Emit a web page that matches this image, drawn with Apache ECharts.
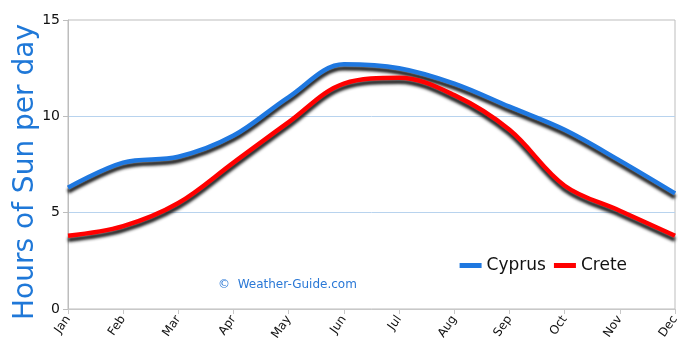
<!DOCTYPE html>
<html>
<head>
<meta charset="utf-8">
<script src="https://cdn.jsdelivr.net/npm/echarts@6/dist/echarts.min.js"></script>
<style>
  html, body { margin: 0; padding: 0; background: #fff; }
  #chart { width: 690px; height: 352px; }
</style>
</head>
<body>
<div id="chart"></div>
<script>
const months = ["Jan", "Feb", "Mar", "Apr", "May", "Jun", "Jul", "Aug", "Sep", "Oct", "Nov", "Dec"];
const cyprus = [6.3, 7.6, 7.9, 9.0, 11.0, 12.7, 12.5, 11.7, 10.5, 9.3, 7.7, 6.0];
const crete = [3.8, 4.3, 5.5, 7.6, 9.7, 11.7, 12.0, 11.1, 9.3, 6.4, 5.1, 3.8];
const yTitle = "Hours of Sun per day";

const chart = echarts.init(document.getElementById("chart"));

const lineShadow = (color) => ({
  width: 4.5,
  color: color,
  shadowColor: "rgba(20,20,20,0.95)",
  shadowBlur: 3,
  shadowOffsetY: 4,
});

chart.setOption({
  animation: false,
  grid: {
    left: 68, right: 15, top: 20, bottom: 43,
    outerBoundsMode: "none",
    show: true, borderColor: "#bdbdbd", borderWidth: 1,
  },
  legend: {
    right: 58,
    top: 252,
    itemWidth: 22,
    itemHeight: 5,
    itemGap: 8,
    icon: "rect",
    textStyle: { fontFamily: "DejaVu Sans", fontSize: 17, color: "#111" },
    data: ["Cyprus", "Crete"],
  },
  graphic: [
    {
      type: "text",
      left: 218,
      top: 279,
      style: { text: "©  Weather-Guide.com", fill: "#2a78d6", font: "12px DejaVu Sans" },
    },
    {
      type: "text",
      x: 26,
      y: 172,
      rotation: Math.PI / 2,
      style: {
        text: yTitle,
        fill: "#1f78d8",
        font: "28px DejaVu Sans",
        align: "center",
        verticalAlign: "middle",
      },
    },
  ],
  xAxis: {
    type: "category",
    data: months,
    boundaryGap: false,
    axisLine: { lineStyle: { color: "#c8c8c8", width: 1 } },
    axisTick: { show: true, length: 5, lineStyle: { color: "#c8c8c8" } },
    axisLabel: { rotate: 55, color: "#111", fontFamily: "DejaVu Sans", fontSize: 12, margin: 8 },
  },
  yAxis: {
    type: "value",
    min: 0,
    max: 15,
    interval: 5,
    axisLine: { show: true, lineStyle: { color: "#bdbdbd" } },
    axisTick: { show: true, length: 5, lineStyle: { color: "#bdbdbd" } },
    axisLabel: { color: "#111", fontFamily: "DejaVu Sans", fontSize: 14, margin: 8 },
    splitLine: { showMaxLine: false, showMinLine: false, lineStyle: { color: "#b8d3ee", width: 1 } },
  },
  series: [
    {
      name: "Cyprus",
      type: "line",
      data: cyprus,
      smooth: 0.35,
      showSymbol: false,
      color: "#1f78e0",
      lineStyle: lineShadow("#1f78e0"),
    },
    {
      name: "Crete",
      type: "line",
      data: crete,
      smooth: 0.35,
      showSymbol: false,
      color: "#ff0000",
      lineStyle: lineShadow("#ff0000"),
    },
  ],
});
</script>
</body>
</html>
